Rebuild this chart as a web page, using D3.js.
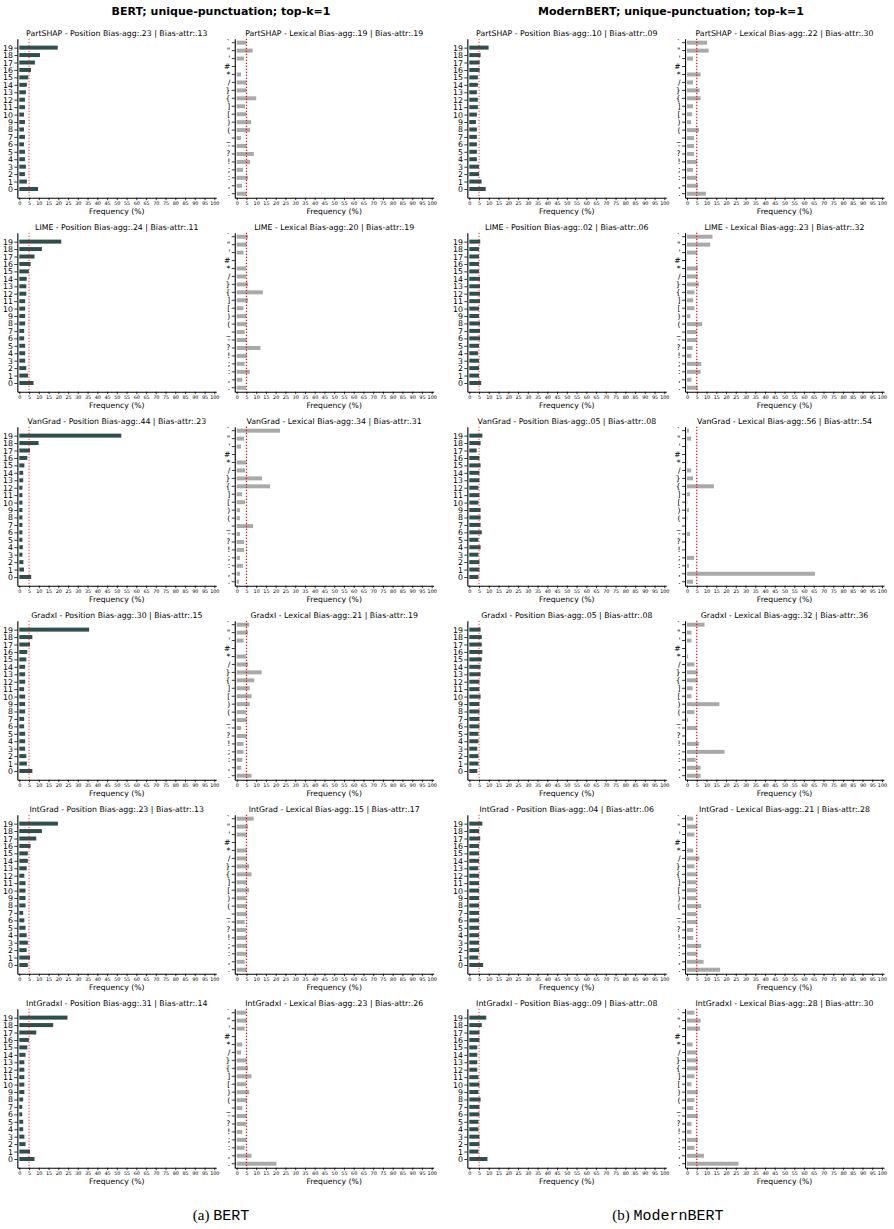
<!DOCTYPE html>
<html>
<head>
<meta charset="utf-8">
<script src="https://cdn.jsdelivr.net/npm/d3@7"></script>
<style>
  body { margin: 0; background: #fff; }
  svg { display: block; font-family: "DejaVu Sans", sans-serif; }
</style>
</head>
<body>
<div id="chart-area"></div>
<script>
/*****************************************/
/*   DATA                                */
/*****************************************/

let methods = ["PartSHAP", "LIME", "VanGrad", "GradxI", "IntGrad", "IntGradxI"];

// top to bottom, as drawn
let positionLabels = ["19", "18", "17", "16", "15", "14", "13", "12", "11", "10",
  "9", "8", "7", "6", "5", "4", "3", "2", "1", "0"];
let lexicalLabels = ["`", "\"", "'", "#", "*", "/", "}", "{", "]", "[",
  ")", "(", "_", "-", "?", "!", ";", ":", ",", "."];
let xTicks = [0, 5, 10, 15, 20, 25, 30, 35, 40, 45, 50, 55, 60, 65, 70, 75, 80, 85, 90, 95, 100];
let uniformLine = 5;

// BERT - position (19 -> 0)
let bertPartshapPos = [19.7, 10.6, 8.0, 6.0, 4.6, 3.9, 3.4, 2.9, 2.9, 2.4, 2.9, 2.4, 2.9, 2.4, 2.9, 2.9, 3.4, 2.9, 3.9, 9.6];
let bertLimePos = [21.5, 11.6, 7.8, 5.8, 4.9, 3.8, 3.6, 3.6, 3.0, 3.0, 3.0, 3.0, 2.5, 2.5, 3.0, 3.0, 3.0, 3.6, 4.5, 7.3];
let bertVangradPos = [52.3, 9.9, 5.5, 4.1, 2.6, 2.0, 2.0, 1.6, 1.6, 1.6, 1.6, 1.6, 1.6, 1.6, 1.6, 1.8, 1.6, 2.1, 2.4, 6.1];
let bertGradxiPos = [35.8, 6.7, 5.5, 4.1, 3.6, 3.0, 3.0, 3.0, 2.5, 3.0, 3.0, 3.0, 2.5, 2.5, 3.0, 3.0, 3.0, 3.6, 3.9, 6.7];
let bertIntgradPos = [19.8, 11.6, 8.7, 5.8, 4.4, 4.4, 3.8, 2.6, 3.2, 3.2, 3.2, 3.2, 2.0, 2.6, 3.2, 3.8, 4.4, 3.8, 5.5, 4.4];
let bertIntgradxiPos = [24.7, 17.4, 8.7, 4.9, 4.1, 3.2, 2.6, 2.6, 2.6, 2.6, 2.6, 2.0, 1.5, 1.5, 2.0, 2.0, 2.6, 3.2, 5.5, 7.8];

// BERT - lexical (same order as lexicalLabels)
let bertPartshapLex = [5.0, 8.2, 3.8, 0, 2.2, 5.0, 5.0, 10.0, 4.3, 5.0, 7.4, 6.9, 2.2, 5.0, 8.8, 6.9, 3.3, 5.8, 2.7, 5.0];
let bertLimeLex = [5.8, 5.2, 3.5, 0, 4.7, 4.7, 5.8, 13.4, 5.8, 3.5, 5.0, 5.0, 4.1, 5.2, 12.2, 5.2, 4.1, 6.7, 2.9, 4.7];
let bertVangradLex = [22.2, 3.8, 2.2, 0, 5.0, 4.3, 13.0, 17.1, 2.7, 4.3, 1.7, 1.7, 8.4, 1.7, 3.8, 3.8, 1.7, 3.2, 1.7, 1.2];
let bertGradxiLex = [6.4, 5.8, 3.5, 0, 4.7, 5.8, 12.8, 9.0, 6.7, 7.6, 6.7, 4.7, 5.2, 2.3, 5.2, 3.5, 3.5, 2.9, 2.3, 7.6];
let bertIntgradLex = [8.7, 5.8, 5.2, 0, 5.2, 5.2, 6.4, 7.6, 5.2, 6.4, 4.7, 5.2, 5.2, 4.1, 4.7, 5.2, 5.2, 5.2, 4.1, 5.2];
let bertIntgradxiLex = [4.7, 5.2, 4.1, 0, 2.9, 2.3, 5.2, 5.8, 7.6, 4.7, 6.4, 5.2, 2.9, 5.2, 4.7, 2.9, 5.0, 4.1, 7.6, 20.4];

// ModernBERT - position (19 -> 0)
let mbertPartshapPos = [9.9, 5.8, 5.3, 5.3, 4.4, 4.4, 3.9, 4.4, 4.4, 3.9, 3.4, 3.9, 3.9, 3.9, 3.9, 3.9, 5.0, 5.0, 6.3, 8.4];
let mbertLimePos = [5.6, 5.0, 5.0, 5.0, 5.0, 5.5, 5.5, 5.5, 5.5, 5.0, 5.0, 5.5, 5.5, 5.5, 5.0, 4.5, 5.0, 5.0, 5.0, 6.1];
let mbertVangradPos = [6.7, 5.8, 3.8, 5.2, 5.8, 5.2, 5.2, 4.7, 5.2, 4.7, 5.8, 5.8, 5.8, 6.4, 4.7, 5.8, 4.7, 5.2, 5.2, 4.7];
let mbertGradxiPos = [5.8, 6.4, 6.4, 6.7, 6.4, 5.8, 5.8, 5.2, 5.2, 5.8, 5.2, 5.2, 5.2, 5.2, 4.7, 4.7, 4.1, 4.7, 4.7, 4.1];
let mbertIntgradPos = [6.7, 5.0, 5.6, 5.0, 5.0, 5.0, 4.6, 5.0, 5.0, 5.0, 5.0, 5.0, 5.0, 5.0, 5.0, 5.0, 5.0, 5.0, 4.6, 7.1];
let mbertIntgradxiPos = [8.7, 6.4, 5.2, 5.2, 4.1, 4.1, 4.1, 4.1, 4.7, 5.2, 4.7, 5.8, 5.2, 5.2, 4.7, 4.7, 5.2, 5.2, 4.7, 9.3];

// ModernBERT - lexical
let mbertPartshapLex = [10.3, 11.1, 3.1, 0, 7.0, 3.1, 6.5, 7.0, 3.1, 2.6, 2.1, 6.2, 3.6, 3.6, 3.6, 5.1, 3.1, 5.1, 5.6, 9.7];
let mbertLimeLex = [13.1, 11.9, 5.2, 0, 5.5, 5.5, 6.1, 3.8, 3.2, 3.8, 1.7, 7.8, 5.0, 5.0, 2.9, 2.3, 7.3, 7.0, 2.3, 5.5];
let mbertVangradLex = [1.0, 2.1, 0.2, 0, 0.2, 2.1, 3.1, 13.8, 1.5, 0.2, 1.0, 0.2, 0, 1.5, 0, 0, 3.6, 1.0, 65.6, 3.1];
let mbertGradxiLex = [9.0, 2.3, 2.3, 0, 0.6, 3.8, 5.5, 5.5, 2.9, 2.3, 16.6, 3.8, 0.6, 5.0, 0, 6.1, 19.2, 4.4, 7.0, 7.0];
let mbertIntgradLex = [3.2, 5.2, 3.8, 0, 3.2, 6.4, 3.8, 5.2, 4.8, 4.8, 4.8, 7.3, 4.8, 5.2, 3.2, 3.2, 7.3, 5.2, 8.5, 17.0];
let mbertIntgradxiLex = [3.8, 7.0, 6.7, 0, 2.9, 5.0, 5.5, 5.5, 3.8, 2.3, 5.5, 3.8, 3.2, 5.5, 2.3, 2.3, 5.5, 3.8, 8.7, 26.4];

// Bias scores [agg, attr]
let bertPosBias = [[".23", ".13"], [".24", ".11"], [".44", ".23"], [".30", ".15"], [".23", ".13"], [".31", ".14"]];
let bertLexBias = [[".19", ".19"], [".20", ".19"], [".34", ".31"], [".21", ".19"], [".15", ".17"], [".23", ".26"]];
let mbertPosBias = [[".10", ".09"], [".02", ".06"], [".05", ".08"], [".05", ".08"], [".04", ".06"], [".09", ".08"]];
let mbertLexBias = [[".22", ".30"], [".23", ".32"], [".56", ".54"], [".32", ".36"], [".21", ".28"], [".28", ".30"]];

let bertPos = [bertPartshapPos, bertLimePos, bertVangradPos, bertGradxiPos, bertIntgradPos, bertIntgradxiPos];
let bertLex = [bertPartshapLex, bertLimeLex, bertVangradLex, bertGradxiLex, bertIntgradLex, bertIntgradxiLex];
let mbertPos = [mbertPartshapPos, mbertLimePos, mbertVangradPos, mbertGradxiPos, mbertIntgradPos, mbertIntgradxiPos];
let mbertLex = [mbertPartshapLex, mbertLimeLex, mbertVangradLex, mbertGradxiLex, mbertIntgradLex, mbertIntgradxiLex];

/*****************************************/
/*   LAYOUT                              */
/*****************************************/

let W = 894, H = 1229;
let colX = [19.3, 236.7, 469.3, 687];   // pixel of 0 % in each column
let unit = 1.95;                          // px per 1 %
let rowStep = 194;
let panelTop = 38.7, panelBottom = 197.7;

let svg = d3.select("#chart-area")
  .append("svg")
  .attr("width", W)
  .attr("height", H);

svg.append("rect").attr("width", W).attr("height", H).attr("fill", "#fff");

function drawPanel(col, row, kind, values, bias, method) {
  let x0 = colX[col];
  let top = panelTop + row * rowStep;
  let bottom = panelBottom + row * rowStep;

  let x = d3.scaleLinear()
    .domain([-1, 101])
    .range([x0 - unit, x0 + 101 * unit]);

  let g = svg.append("g");
  let labels = kind === "pos" ? positionLabels : lexicalLabels;
  let y, yAxis, barH, barY;

  if (kind === "pos") {
    y = d3.scaleLinear().domain([-1.17, 20.2]).range([bottom, top]);
    barH = 4;
    barY = (d, i) => y(+labels[i]) - barH / 2;
    yAxis = d3.axisLeft(y)
      .tickValues(labels.map(Number))
      .tickFormat(d3.format("d"))
      .tickSize(3)
      .tickSizeOuter(0)
      .tickPadding(1.5);
  } else {
    y = d3.scaleBand()
      .domain(labels)
      .range([top, bottom])
      .paddingInner(0.5)
      .paddingOuter(0.25);
    barH = y.bandwidth();
    barY = (d, i) => y(labels[i]);
    yAxis = d3.axisLeft(y)
      .tickSize(3)
      .tickSizeOuter(0)
      .tickPadding(1.5);
  }

  // bars
  g.selectAll(".bar")
    .data(values)
    .enter()
    .append("rect")
    .attr("class", "bar")
    .attr("x", x(0))
    .attr("y", barY)
    .attr("width", d => Math.max(0, x(d) - x(0)))
    .attr("height", barH)
    .attr("fill", kind === "pos" ? "#2f4f4f" : "#a9a9a9");

  // uniform reference line
  g.append("line")
    .attr("x1", x(uniformLine))
    .attr("x2", x(uniformLine))
    .attr("y1", top)
    .attr("y2", bottom)
    .attr("stroke", "red")
    .attr("stroke-opacity", kind === "pos" ? 0.65 : 1)
    .attr("stroke-width", 1.2)
    .attr("stroke-dasharray", "1.4,1.6");

  // axes
  let yg = g.append("g")
    .attr("transform", "translate(" + x(-1) + ",0)")
    .call(yAxis);
  yg.selectAll("text")
    .style("font-size", kind === "pos" ? "7.8px" : "7.6px")
    .attr("fill", "#000");

  let xAxis = d3.axisBottom(x)
    .tickValues(xTicks)
    .tickSize(2.5)
    .tickSizeOuter(0)
    .tickPadding(1);
  let xg = g.append("g")
    .attr("transform", "translate(0," + bottom + ")")
    .call(xAxis);
  xg.selectAll("text")
    .style("font-size", "4.9px")
    .attr("fill", "#000");

  [yg, xg].forEach(a => {
    a.attr("font-family", null);
    a.select(".domain").attr("stroke", "#000").attr("stroke-width", 1.1);
    a.selectAll(".tick line").attr("stroke", "#000").attr("stroke-width", 0.8);
  });

  // titles
  g.append("text")
    .attr("x", x(50))
    .attr("y", top - 3)
    .attr("text-anchor", "middle")
    .style("font-size", "7.8px")
    .text(method + " - " + (kind === "pos" ? "Position" : "Lexical") +
      " Bias-agg:" + bias[0] + " | Bias-attr:" + bias[1]);

  g.append("text")
    .attr("x", x(50))
    .attr("y", bottom + 16.5)
    .attr("text-anchor", "middle")
    .style("font-size", "7.7px")
    .text("Frequency (%)");
}

methods.forEach((m, r) => {
  drawPanel(0, r, "pos", bertPos[r], bertPosBias[r], m);
  drawPanel(1, r, "lex", bertLex[r], bertLexBias[r], m);
  drawPanel(2, r, "pos", mbertPos[r], mbertPosBias[r], m);
  drawPanel(3, r, "lex", mbertLex[r], mbertLexBias[r], m);
});

// column headers
svg.append("text")
  .attr("x", 221)
  .attr("y", 14.5)
  .attr("text-anchor", "middle")
  .style("font-size", "11px")
  .style("font-weight", "bold")
  .text("BERT; unique-punctuation; top-k=1");

svg.append("text")
  .attr("x", 671)
  .attr("y", 14.5)
  .attr("text-anchor", "middle")
  .style("font-size", "11px")
  .style("font-weight", "bold")
  .text("ModernBERT; unique-punctuation; top-k=1");

// sub-figure captions
function caption(cx, tag, name) {
  let t = svg.append("text")
    .attr("x", cx)
    .attr("y", 1220)
    .attr("text-anchor", "middle")
    .style("font-size", "15px");
  t.append("tspan").style("font-family", "'Liberation Serif', serif").text(tag + " ");
  t.append("tspan").style("font-family", "'Liberation Mono', monospace").text(name);
}
caption(221, "(a)", "BERT");
caption(668, "(b)", "ModernBERT");
</script>
</body>
</html>
